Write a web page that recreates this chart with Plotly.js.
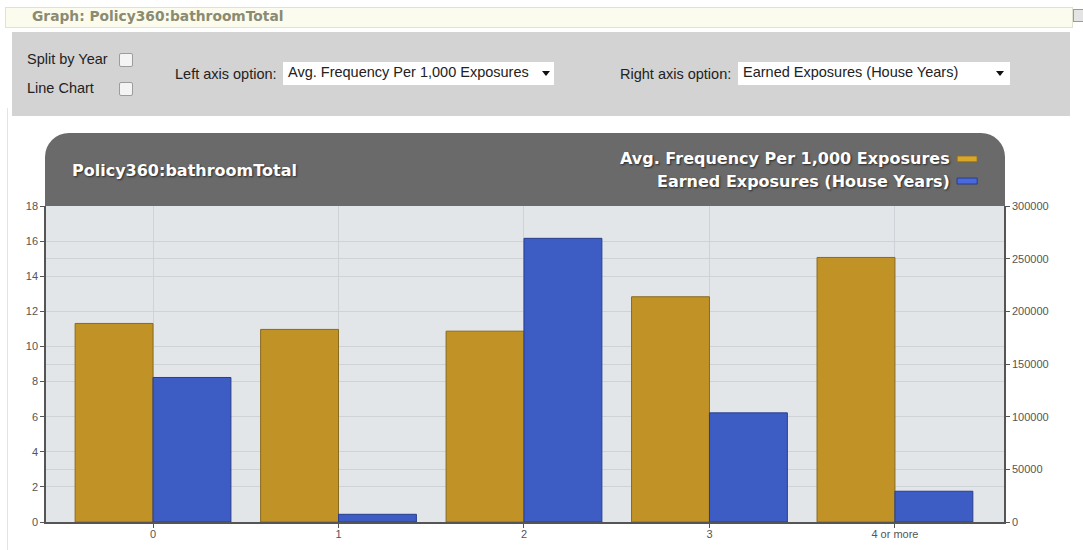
<!DOCTYPE html>
<html>
<head>
<meta charset="utf-8">
<script src="https://cdn.plot.ly/plotly-3.0.1.min.js"></script>
<style>
  html, body { margin:0; padding:0; background:#ffffff; width:1083px; height:550px; overflow:hidden; font-family:"Liberation Sans", Arial, sans-serif; }
  .abs { position:absolute; }
  #topbar { left:5px; top:7px; width:1066px; height:19px; background:#fcfcee; border:1px solid #e2e2d0; }
  #topbar span { position:absolute; left:26px; top:0px; font-family:"DejaVu Sans", Verdana, sans-serif; font-weight:bold; font-size:13.8px; color:#8b8b72; }
  #icon { left:1073px; top:9px; width:9px; height:11px; background:#e4e4e4; border:1px solid #9a9a9a; }
  #panel { left:12px; top:32px; width:1058px; height:84px; background:#d3d3d3; }
  .lbl { font-size:14.5px; color:#222; white-space:nowrap; }
  .cb { width:12px; height:12px; background:#f4f4f4; border:1px solid #9c9c9c; border-radius:2px; }
  .sel { background:#fff; height:23px; }
  .sel span { position:absolute; left:5px; top:2px; font-size:14.5px; color:#222; white-space:nowrap; }
  .arrow { width:0; height:0; border-left:4px solid transparent; border-right:4px solid transparent; border-top:5px solid #111; }
  #leftline { left:7px; top:108px; width:1px; height:442px; background:#e4e4e4; }
  #header { left:45px; top:133px; width:960px; height:74px; background:#6a6a6a; border-radius:24px 24px 0 0; }
  #chart { left:0px; top:125px; width:1083px; height:425px; }
</style>
</head>
<body>
<div id="topbar" class="abs"><span>Graph: Policy360:bathroomTotal</span></div>
<div id="icon" class="abs"></div>
<div id="panel" class="abs"></div>
<div class="abs lbl" style="left:27px; top:51px;">Split by Year</div>
<div class="abs cb" style="left:119px; top:53px;"></div>
<div class="abs lbl" style="left:27px; top:80px;">Line Chart</div>
<div class="abs cb" style="left:119px; top:82px;"></div>
<div class="abs lbl" style="left:175px; top:66px;">Left axis option:</div>
<div class="abs sel" style="left:283px; top:62px; width:271px;"><span>Avg. Frequency Per 1,000 Exposures</span></div>
<div class="abs arrow" style="left:542px; top:71px;"></div>
<div class="abs lbl" style="left:620px; top:66px;">Right axis option:</div>
<div class="abs sel" style="left:738px; top:62px; width:272px;"><span>Earned Exposures (House Years)</span></div>
<div class="abs arrow" style="left:996px; top:71px;"></div>
<div id="leftline" class="abs"></div>
<div id="header" class="abs"></div>
<div id="chart" class="abs"></div>
<script>
const categories = ["0", "1", "2", "3", "4 or more"];
const avgFrequency = [11.31, 10.97, 10.87, 12.83, 15.07];
const earnedExposures = [137200, 7300, 269300, 103600, 29200];
const leftTicks = [0, 2, 4, 6, 8, 10, 12, 14, 16, 18];
const rightTicks = [0, 50000, 100000, 150000, 200000, 250000, 300000];
const chartTitle = "Policy360:bathroomTotal";
const seriesNames = ["Avg. Frequency Per 1,000 Exposures", "Earned Exposures (House Years)"];
const seriesColors = ["#c19327", "#3d5cc4"];
const seriesLines = ["#876a22", "#273e8c"];
const swatchColors = ["#d9a72c", "#4868dc"];

const traces = [
  {
    type: "bar", name: seriesNames[0], x: categories, y: avgFrequency,
    yaxis: "y", offsetgroup: "a",
    marker: { color: seriesColors[0], line: { color: seriesLines[0], width: 1 } },
    hoverinfo: "x+y"
  },
  {
    type: "bar", name: seriesNames[1], x: categories, y: earnedExposures,
    yaxis: "y2", offsetgroup: "b",
    marker: { color: seriesColors[1], line: { color: seriesLines[1], width: 1 } },
    hoverinfo: "x+y"
  }
];

const tickFont = { family: "Liberation Sans, Arial, sans-serif", size: 11, color: "#555555" };
const headFont = { family: "DejaVu Sans, Verdana, sans-serif", size: 16, color: "#ffffff", weight: "bold", shadow: "1px 1px 2px #2a2a2a" };

// legend drawn in the header: right-aligned text followed by a swatch
const legendTextX = 0.9457;
const legendRowsY = [1.149, 1.079];
const annotations = seriesNames.map((n, i) => ({
  text: n, xref: "paper", yref: "paper", x: legendTextX, y: legendRowsY[i],
  xanchor: "right", yanchor: "middle", showarrow: false, font: headFont
}));
const shapes = seriesNames.map((n, i) => ({
  type: "rect", xref: "paper", yref: "paper",
  x0: 0.951, x1: 0.972, y0: legendRowsY[i] - 0.0095, y1: legendRowsY[i] + 0.0095,
  fillcolor: swatchColors[i], line: { color: seriesLines[i], width: 1 }
}));

const layout = {
  width: 1083, height: 425,
  margin: { l: 46, r: 79, t: 81, b: 28, pad: 0 },
  paper_bgcolor: "rgba(0,0,0,0)",
  plot_bgcolor: "#e3e6e9",
  barmode: "group",
  bargap: 0.16,
  bargroupgap: 0,
  title: {
    text: "<b>" + chartTitle + "</b>",
    x: 72 / 1083, xref: "container", xanchor: "left",
    y: 1 - 45 / 425, yref: "container", yanchor: "middle",
    font: { family: "DejaVu Sans, Verdana, sans-serif", size: 16, color: "#ffffff", shadow: "1px 1px 2px #2a2a2a" }
  },
  showlegend: false,
  annotations: annotations,
  shapes: shapes,
  xaxis: {
    type: "category",
    range: [-0.577, 4.588],
    showgrid: true, gridcolor: "#cfd2d6", gridwidth: 1,
    showline: true, linecolor: "#555555", linewidth: 1.5,
    ticks: "outside", ticklen: 4, tickcolor: "#555555",
    ticklabelstandoff: -3,
    tickfont: tickFont, fixedrange: true, zeroline: false
  },
  yaxis: {
    range: [0, 18], tickvals: leftTicks,
    showgrid: true, gridcolor: "#cfd2d6", gridwidth: 1,
    showline: true, linecolor: "#555555", linewidth: 1.5,
    ticks: "outside", ticklen: 4, tickcolor: "#555555",
    tickfont: tickFont, zeroline: false, fixedrange: true
  },
  yaxis2: {
    range: [0, 300000], tickvals: rightTicks, tickformat: "d",
    overlaying: "y", side: "right",
    showgrid: true, gridcolor: "#cfd2d6", gridwidth: 1,
    showline: true, linecolor: "#555555", linewidth: 1.5,
    ticks: "outside", ticklen: 4, tickcolor: "#555555",
    tickfont: tickFont, zeroline: false, fixedrange: true
  }
};

Plotly.newPlot("chart", traces, layout, { displayModeBar: false });
</script>
</body>
</html>
